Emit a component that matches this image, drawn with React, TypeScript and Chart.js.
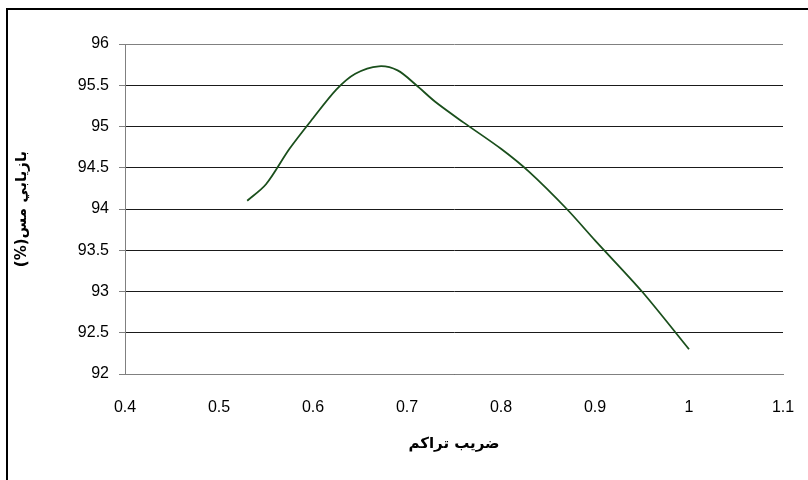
import React, { useEffect, useRef } from "react";
import { Chart, registerables } from "chart.js";

Chart.register(...registerables);

const xValues = [0.53, 0.55, 0.575, 0.6, 0.625, 0.645, 0.67, 0.69, 0.71, 0.73, 0.76, 0.8, 0.83, 0.87, 0.9, 0.95, 1.0];
const recovery = [94.1, 94.3, 94.73, 95.1, 95.45, 95.64, 95.73, 95.68, 95.5, 95.3, 95.05, 94.73, 94.45, 94.0, 93.62, 93.0, 92.3];
const xTitle = "ضريب تراكم";
const yTitle = "\u202Bبازيابي مس(%)\u202C";

const FONT = "'Liberation Sans', Arial, 'DejaVu Sans', sans-serif";

export default function App() {
  const ref = useRef<HTMLCanvasElement | null>(null);

  useEffect(() => {
    if (!ref.current) return;
    const chart = new Chart(ref.current, {
      type: "line",
      data: {
        datasets: [
          {
            data: xValues.map((x, i) => ({ x, y: recovery[i] })),
            borderColor: "#1a4f1c",
            borderWidth: 1.8,
            pointRadius: 0,
            tension: 0.3,
            fill: false,
          },
        ],
      },
      options: {
        animation: false,
        responsive: false,
        devicePixelRatio: 1,
        layout: { padding: { left: 0, right: 25, top: 44, bottom: 0 } },
        plugins: { legend: { display: false }, tooltip: { enabled: false } },
        scales: {
          x: {
            type: "linear",
            min: 0.4,
            max: 1.1,
            afterFit: (s: any) => {
              s.height = 106;
            },
            ticks: {
              stepSize: 0.1,
              padding: 4,
              color: "#000",
              font: { family: FONT, size: 16 },
              callback: (v: any) => String(Number(Number(v).toFixed(1))),
            },
            grid: {
              display: true,
              drawOnChartArea: false,
              drawTicks: true,
              tickLength: 20,
              tickColor: "rgba(0,0,0,0)",
              color: "rgba(0,0,0,0)",
            },
            border: { display: true, color: "#808080", width: 1 },
            title: {
              display: true,
              text: xTitle,
              color: "#000",
              font: { family: "'DejaVu Sans', sans-serif", size: 15, weight: "bold" },
              padding: { top: 14, bottom: 27 },
            },
          },
          y: {
            min: 92,
            max: 96,
            afterFit: (s: any) => {
              s.width = 125;
            },
            ticks: {
              stepSize: 0.5,
              padding: 10,
              color: "#000",
              font: { family: FONT, size: 16 },
              callback: (v: any) => String(Number(Number(v).toFixed(1))),
            },
            grid: {
              color: (ctx: any) => (ctx.tick && ctx.tick.value === 96 ? "#808080" : "#1a1a1a"),
              lineWidth: 1,
              tickLength: 6,
              tickColor: "#808080",
            },
            border: { display: true, color: "#808080", width: 1 },
            title: {
              display: true,
              text: yTitle,
              color: "#000",
              font: { family: "'DejaVu Sans', sans-serif", size: 15, weight: "bold" },
              padding: { top: 13, bottom: 0 },
            },
          },
        },
      },
    });
    return () => chart.destroy();
  }, []);

  return (
    <div style={{ position: "absolute", left: 0, top: 0, width: 808, height: 480, overflow: "hidden", background: "#fff" }}>
      <canvas ref={ref} width={808} height={480} style={{ position: "absolute", left: 0, top: 0 }} />
      <div
        style={{
          position: "absolute",
          left: 6,
          top: 8,
          width: 900,
          height: 600,
          border: "2px solid #000",
          pointerEvents: "none",
        }}
      />
    </div>
  );
}
